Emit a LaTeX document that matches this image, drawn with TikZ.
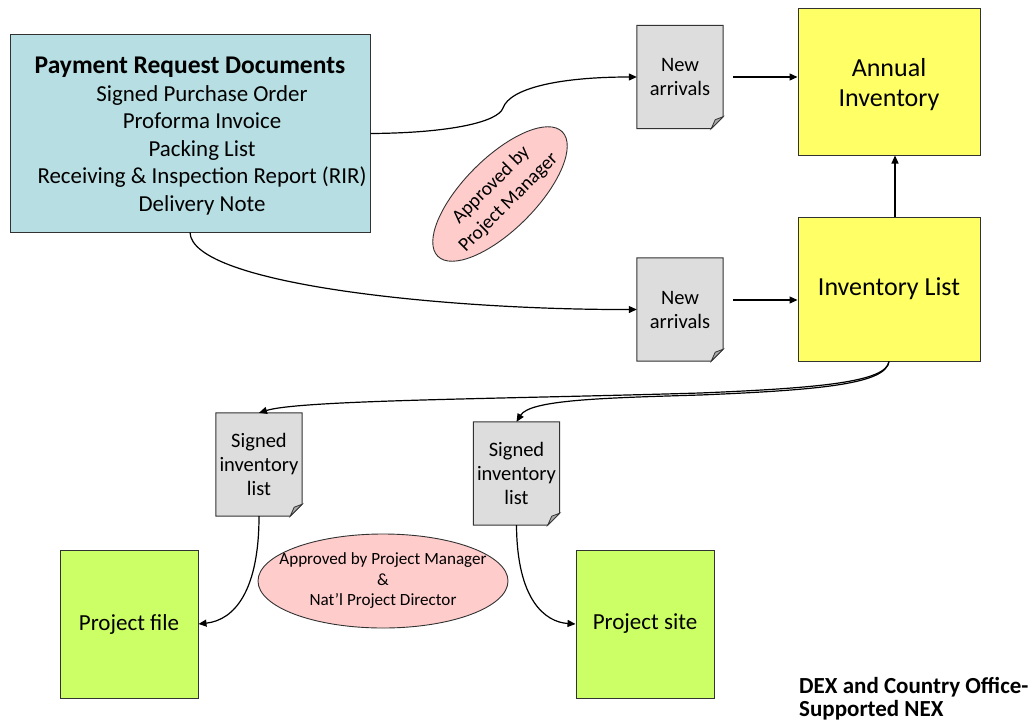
\documentclass[tikz,border=0pt]{standalone}
\usepackage{fontspec}
\setmainfont{Carlito}
\usetikzlibrary{shapes.geometric,arrows.meta,backgrounds}
\definecolor{payteal}{RGB}{183,222,226}
\definecolor{yel}{RGB}{255,255,102}
\definecolor{grn}{RGB}{204,255,102}
\definecolor{pinkc}{RGB}{255,204,204}
\definecolor{docgray}{RGB}{221,221,221}
\definecolor{flapgray}{RGB}{170,170,170}
\definecolor{edge}{RGB}{50,50,50}
\newcommand\docoutline[1]{%
  \begin{scope}[on background layer]
    \filldraw[fill=docgray, draw=edge, line width=1pt] (#1.north west) -- (#1.north east) -- ([yshift=12pt]#1.south east) -- ([xshift=-12pt]#1.south east) -- (#1.south west) -- cycle;
    \filldraw[fill=flapgray, draw=edge, line width=0.8pt] ([yshift=12pt]#1.south east) -- ([xshift=-12pt]#1.south east) -- ([xshift=-8pt,yshift=9pt]#1.south east) -- cycle;
  \end{scope}}
\begin{document}
\begin{tikzpicture}[x=1pt,y=-1pt,
  box/.style={draw=edge, line width=1pt, inner sep=0pt, align=center},
  docnode/.style={minimum width=86pt, minimum height=103pt, inner sep=0pt, align=center, font=\fontsize{20.5}{24}\selectfont},
  bubble/.style={ellipse, draw=edge, line width=0.9pt, fill=pinkc, inner sep=0pt},
  arr/.style={line width=1.2pt, -{Triangle[length=8pt,width=7pt]}}]
\useasboundingbox (0,0) rectangle (1032,725);

% boxes
\node[box, fill=payteal, minimum width=360pt, minimum height=197pt] (pay) at (190,133.5) {};
\node[align=center, inner sep=0pt, font=\fontsize{22.9}{27.5}\selectfont] (paytext) at (202,136)
  {{\bfseries\fontsize{25.5}{27.5}\selectfont Payment Request Documents}\hspace*{24pt}\\Signed Purchase Order\\Proforma Invoice\\Packing List\\Receiving \& Inspection Report (RIR)\\Delivery Note};
\node[box, fill=yel, minimum width=182pt, minimum height=146pt] (annual) at (889,82) {};
\node[align=center, inner sep=0pt, font=\fontsize{26}{30}\selectfont] (annualtext) at (889,85) {Annual\\Inventory};
\node[box, fill=yel, minimum width=182pt, minimum height=144pt, font=\fontsize{26}{30}\selectfont] (invlist) at (889,289) {Inventory List};
\node[box, fill=grn, minimum width=138pt, minimum height=148pt, font=\fontsize{23}{27}\selectfont] (pfile) at (129,624) {Project file};
\node[box, fill=grn, minimum width=138pt, minimum height=148pt, font=\fontsize{23}{27}\selectfont] (psite) at (645,624) {Project site};

% documents
\node[docnode] (na1) at (680,77) {New\\arrivals};
\node[docnode] (na2) at (680,309.5) {New\\arrivals};
\node[docnode] (sg1) at (259,464.5) {Signed\\inventory\\list};
\node[docnode] (sg2) at (516.5,473.5) {Signed\\inventory\\list};
\docoutline{na1}
\docoutline{na2}
\docoutline{sg1}
\docoutline{sg2}

% approvals
\node[bubble, rotate=45, minimum width=176pt, minimum height=72pt] (appr1) at (500,194) {};
\node[rotate=45, align=center, inner sep=0pt, font=\fontsize{19.5}{24.5}\selectfont] (appr1text) at (appr1.center) {Approved by\\Project Manager};
\node[bubble, minimum width=250pt, minimum height=94pt] (appr2) at (383,581) {};
\node[align=center, inner sep=0pt, font=\fontsize{17.1}{20.5}\selectfont] (appr2text) at (appr2.center) {Approved by Project Manager\\\&\\Nat’l Project Director};

\node[anchor=north west, align=left, inner sep=0pt, font=\bfseries\fontsize{23}{23.5}\selectfont] (dex) at (799,677) {DEX and Country Office-\\Supported NEX};

% connectors
\coordinate (a1s) at (733,77);
\coordinate (a2s) at (733,300);
\draw[arr] (pay.east) .. controls (450,133) and (498,122) .. (503,108) .. controls (510,88) and (560,77) .. (na1.west);
\draw[arr] (pay.south) .. controls (192,285) and (450,310) .. (na2.west);
\draw[arr] (a1s) -- (annual.west |- a1s);
\draw[arr] (a2s) -- (invlist.west |- a2s);
\draw[arr] ([xshift=6pt]invlist.north) -- ([xshift=6pt]annual.south);
\draw[arr] (invlist.south) .. controls (886,382) and (820,388) .. (700,393) .. controls (500,399) and (300,400) .. (sg1.north);
\draw[arr] (invlist.south) .. controls (886,384) and (820,390) .. (700,395) .. controls (600,398) and (530,400) .. (sg2.north);
\draw[arr] (sg1.south) .. controls (259,590) and (235,620) .. (pfile.east);
\draw[arr] (sg2.south) .. controls (517,600) and (545,622) .. (psite.west);
\end{tikzpicture}
\end{document}
